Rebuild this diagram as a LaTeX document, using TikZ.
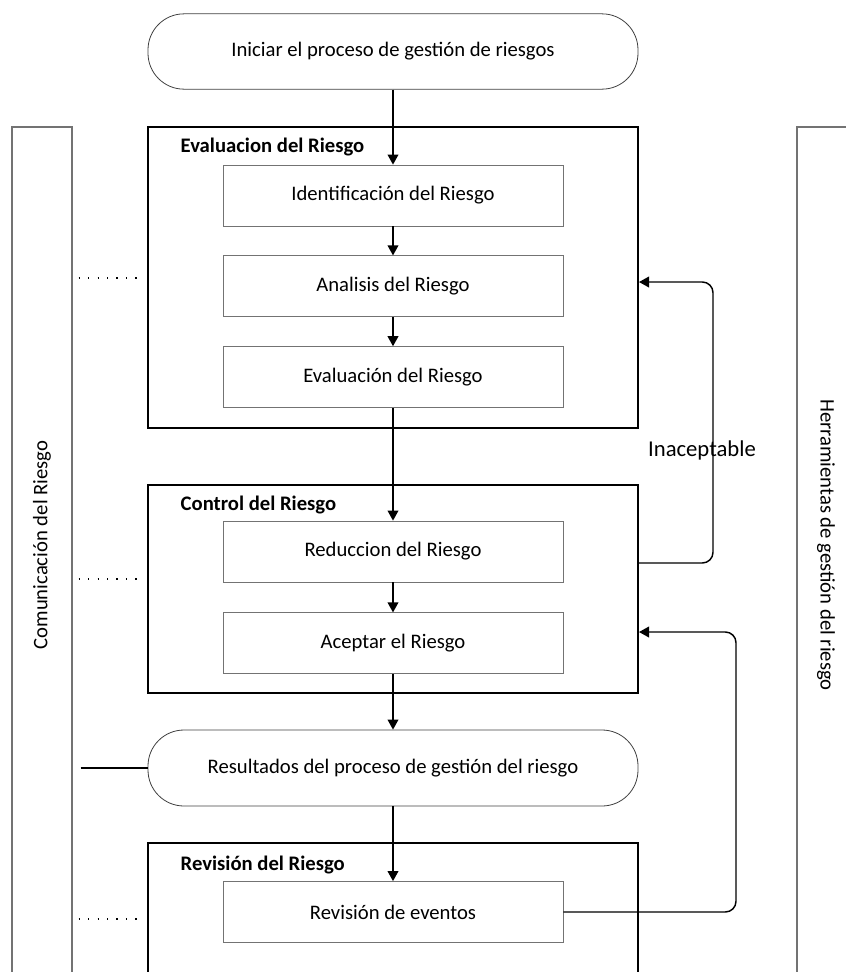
\documentclass[tikz,border=0pt]{standalone}
\usepackage{fontspec}
\setmainfont{Carlito}
\usetikzlibrary{arrows.meta, positioning}

\begin{document}
\begin{tikzpicture}[
    x=0.75pt, y=-0.75pt,
    node distance=21.75pt,
    every node/.style={font=\fontsize{15.5}{18}\selectfont},
    terminal/.style={rectangle, draw=black!75, rounded corners=27pt,
                minimum width=367.5pt, minimum height=56.5pt, line width=0.6pt},
    fase/.style={rectangle, draw, line width=1.5pt, minimum width=367.5pt},
    paso/.style={rectangle, draw=black!55, line width=0.6pt,
                minimum width=255pt, minimum height=45.75pt},
    columna/.style={rectangle, draw=black!55, line width=0.9pt,
                minimum width=45pt, minimum height=662.25pt},
    titulo/.style={anchor=west, font=\bfseries\fontsize{15.5}{18}\selectfont},
    arrow/.style={-{Triangle[length=7.5pt, width=8pt]}, line width=1.1pt},
    puntos/.style={line width=0.9pt, dash pattern=on 0.9pt off 6.2pt}
]
\useasboundingbox (0,0) rectangle (846,972);
\clip (0,0) rectangle (846,972);

% === COLUMNS ===
\node[columna] (colcom) at (42,568.5) {};
\node[columna] (colherr) at (827,568.5) {};
\node[rotate=90] (txtcom) at (42,545) {Comunicación del Riesgo};
\node[rotate=-90] (txtherr) at (826,545) {Herramientas de gestión del riesgo};

% === START ===
\node[terminal] (inicio) at (393,51.5) {Iniciar el proceso de gestión de riesgos};

% === EVALUACION ===
\node[fase, minimum height=225.75pt] (evaluacion) at (393,277.5) {};
\node[titulo] at (176,147) {Evaluacion del Riesgo};
\node[paso] (ident) at (393,195.5) {Identificación del Riesgo};
\node[paso, below=of ident] (anal) {Analisis del Riesgo};
\node[paso, below=of anal] (evalu) {Evaluación del Riesgo};

% === CONTROL ===
\node[fase, minimum height=156pt] (control) at (393,589) {};
\node[titulo] at (176,505) {Control del Riesgo};
\node[paso] (reduc) at (393,551.5) {Reduccion del Riesgo};
\node[paso, below=22.5pt of reduc] (acept) {Aceptar el Riesgo};

% === RESULTS ===
\node[terminal, minimum height=57pt] (resultados) at (393,768) {Resultados del proceso de gestión del riesgo};

% === REVISION ===
\node[fase, minimum height=125.25pt] (revision) at (393,926.5) {};
\node[titulo] at (176,865) {Revisión del Riesgo};
\node[paso] (revis) at (393,912) {Revisión de eventos};

% === ARROWS ===
\draw[arrow] (inicio) -- (ident);
\draw[arrow] (ident) -- (anal);
\draw[arrow] (anal) -- (evalu);
\draw[arrow] (evalu) -- (reduc);
\draw[arrow] (reduc) -- (acept);
\draw[arrow] (acept) -- (resultados);
\draw[arrow] (resultados) -- (revis);

% feedback loops
\draw[arrow, rounded corners=8pt] (control.east |- 0,563) -| (713,282) -- (evaluacion.east |- 0,282);
\node[font=\fontsize{17}{20}\selectfont] (inacept) at (702,450) {Inaceptable};
\draw[arrow, rounded corners=8pt] (revis.east) -| (736,632) -- (control.east |- 0,632);

% === LINKS TO COMUNICACION ===
\draw[puntos, shorten <=4.5pt, shorten >=6pt] (colcom.east |- 0,278) -- (evaluacion.west |- 0,278);
\draw[puntos, shorten <=4.5pt, shorten >=6pt] (colcom.east |- 0,579) -- (control.west |- 0,579);
\draw[puntos, shorten <=4.5pt, shorten >=6pt] (colcom.east |- 0,919) -- (revision.west |- 0,919);
\draw[line width=1.1pt, shorten <=6pt] (colcom.east |- resultados.west) -- (resultados.west);

\end{tikzpicture}
\end{document}
